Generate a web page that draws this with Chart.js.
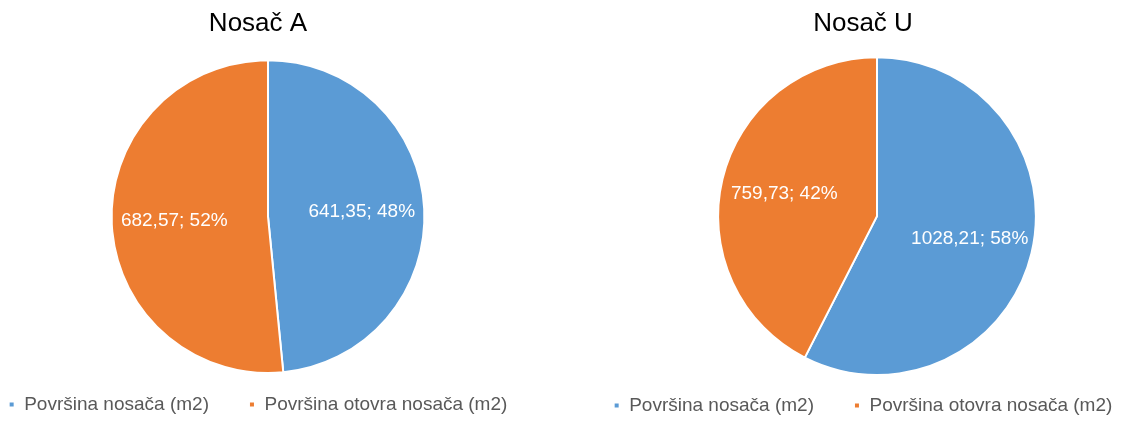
<!DOCTYPE html>
<html>
<head>
<meta charset="utf-8">
<script src="https://cdn.jsdelivr.net/npm/chart.js@4.4.1/dist/chart.umd.min.js"></script>
<style>
  html, body { margin: 0; padding: 0; background: #fff; overflow: hidden; }
  canvas { position: absolute; top: 0; }
  #chartA { left: -84px; }
  #chartU { left: 521px; }
</style>
</head>
<body>
<canvas id="chartA" width="684" height="424"></canvas>
<canvas id="chartU" width="684" height="425"></canvas>
<script>
const categories = ['Površina nosača (m2)', 'Površina otovra nosača (m2)'];
const valuesA = [641.35, 682.57];
const valuesU = [1028.21, 759.73];
const colors = ['#5B9BD5', '#ED7D31'];

const FONT = '"Liberation Sans", Arial, sans-serif';

// pomak pite unutar platna (naslov i legenda ostaju centrirani)
const pieShift = {
    id: 'pieShift',
    afterLayout(chart, args, opts) {
        const a = chart.chartArea;
        a.left += 2 * (opts.dx || 0);
        a.bottom += opts.extendBottom || 0;
        a.width = a.right - a.left;
        a.height = a.bottom - a.top;
    }
};

// oznake "vrijednost; postotak" unutar kriški
const sliceLabels = {
    id: 'sliceLabels',
    afterDatasetsDraw(chart) {
        const ctx = chart.ctx;
        const data = chart.data.datasets[0].data;
        const total = data.reduce((s, v) => s + v, 0);
        const meta = chart.getDatasetMeta(0);
        ctx.save();
        ctx.font = '19px ' + FONT;
        ctx.fillStyle = '#ffffff';
        ctx.textAlign = 'center';
        ctx.textBaseline = 'middle';
        meta.data.forEach((arc, i) => {
            const p = arc.getProps(['x', 'y', 'startAngle', 'endAngle', 'outerRadius'], true);
            const mid = (p.startAngle + p.endAngle) / 2;
            const r = p.outerRadius * 0.6;
            const txt = data[i].toFixed(2).replace('.', ',') + '; ' + Math.round(data[i] / total * 100) + '%';
            ctx.fillText(txt, p.x + Math.cos(mid) * r, p.y + Math.sin(mid) * r);
        });
        ctx.restore();
    }
};

function makePie(id, title, values, titleBottom, dx, extendBottom) {
    return new Chart(document.getElementById(id), {
        type: 'pie',
        data: {
            labels: categories,
            datasets: [{
                data: values,
                backgroundColor: colors,
                borderColor: '#ffffff',
                borderWidth: 2
            }]
        },
        options: {
            responsive: false,
            animation: false,
            layout: { padding: 0 },
            plugins: {
                title: {
                    display: true,
                    text: title,
                    color: '#000000',
                    font: { family: FONT, size: 26, weight: 'normal' },
                    padding: { top: 8, bottom: titleBottom }
                },
                legend: {
                    position: 'bottom',
                    labels: {
                        color: '#595959',
                        font: { family: FONT, size: 19 },
                        boxWidth: 6,
                        boxHeight: 6,
                        padding: 40
                    }
                },
                tooltip: { enabled: false },
                pieShift: { dx: dx, extendBottom: extendBottom }
            }
        },
        plugins: [pieShift, sliceLabels]
    });
}

makePie('chartA', 'Nosač A', valuesA, 20, 10, 19);
makePie('chartU', 'Nosač U', valuesU, 17, 14, 20);
</script>
</body>
</html>
